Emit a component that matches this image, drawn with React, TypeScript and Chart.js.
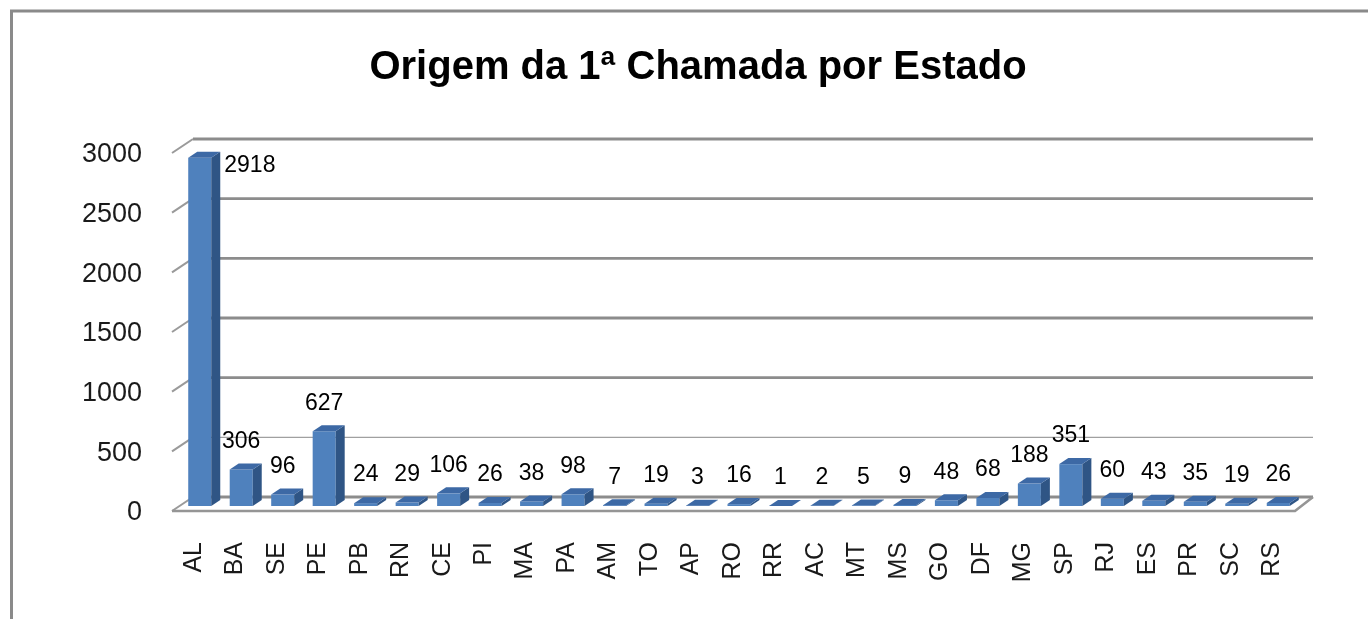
import React, { useEffect, useRef } from 'react';
import { Chart, registerables } from 'chart.js';

Chart.register(...registerables);

const TITLE = 'Origem da 1ª Chamada por Estado';
const STATES = ['AL', 'BA', 'SE', 'PE', 'PB', 'RN', 'CE', 'PI', 'MA', 'PA', 'AM', 'TO', 'AP', 'RO', 'RR', 'AC', 'MT', 'MS', 'GO', 'DF', 'MG', 'SP', 'RJ', 'ES', 'PR', 'SC', 'RS'];
const CALLS = [2918, 306, 96, 627, 24, 29, 106, 26, 38, 98, 7, 19, 3, 16, 1, 2, 5, 9, 48, 68, 188, 351, 60, 43, 35, 19, 26];
const Y_TICKS = [0, 500, 1000, 1500, 2000, 2500, 3000];

const FONT = 'Liberation Sans';
const FRONT = { dx: -7, dy: 5 };
const BACK = { dx: 14, dy: -9 };
const DEPTH = { dx: 9, dy: 6 };

const frame3d = {
  id: 'frame3d',
  beforeDraw(chart: any) {
    const { ctx, width, height } = chart;
    ctx.save();
    ctx.fillStyle = '#ffffff';
    ctx.fillRect(0, 0, width, height);
    ctx.strokeStyle = '#8a8a8a';
    ctx.lineWidth = 3;
    ctx.strokeRect(11.5, 11, width + 20, height + 20);
    ctx.restore();
  },
  beforeDatasetsDraw(chart: any) {
    const { ctx, chartArea, scales } = chart;
    const { left, right } = chartArea;
    const y = scales.y;
    ctx.save();
    ctx.lineCap = 'butt';
    Y_TICKS.forEach((v) => {
      const py = y.getPixelForValue(v);
      ctx.strokeStyle = v === 500 ? '#a0a0a0' : '#8c8c8c';
      ctx.lineWidth = v === 500 ? 1.3 : 2.8;
      ctx.beginPath();
      ctx.moveTo(left + BACK.dx, py + BACK.dy);
      ctx.lineTo(right + BACK.dx, py + BACK.dy);
      ctx.stroke();
      ctx.strokeStyle = '#9a9a9a';
      ctx.lineWidth = 2;
      ctx.beginPath();
      ctx.moveTo(left + FRONT.dx, py + FRONT.dy);
      ctx.lineTo(left + BACK.dx, py + BACK.dy);
      ctx.stroke();
    });
    const y0 = y.getPixelForValue(0);
    ctx.strokeStyle = '#959595';
    ctx.lineWidth = 2.6;
    ctx.beginPath();
    ctx.moveTo(left + FRONT.dx, y0 + FRONT.dy);
    ctx.lineTo(right - 4, y0 + FRONT.dy);
    ctx.lineTo(right + BACK.dx, y0 + BACK.dy);
    ctx.stroke();
    ctx.restore();
  },
  afterDatasetsDraw(chart: any) {
    const { ctx, chartArea } = chart;
    const meta = chart.getDatasetMeta(0);
    ctx.save();
    meta.data.forEach((bar: any, i: number) => {
      const { x, y: top, base, width } = bar.getProps(['x', 'y', 'base', 'width'], true);
      const l = x - width / 2;
      const r = x + width / 2;
      ctx.fillStyle = '#2f5585';
      ctx.beginPath();
      ctx.moveTo(r, top);
      ctx.lineTo(r + DEPTH.dx, top - DEPTH.dy);
      ctx.lineTo(r + DEPTH.dx, base - DEPTH.dy);
      ctx.lineTo(r, base);
      ctx.closePath();
      ctx.fill();
      ctx.fillStyle = '#3d69a5';
      ctx.beginPath();
      ctx.moveTo(l, top);
      ctx.lineTo(l + DEPTH.dx, top - DEPTH.dy);
      ctx.lineTo(r + DEPTH.dx, top - DEPTH.dy);
      ctx.lineTo(r, top);
      ctx.closePath();
      ctx.fill();

      const value = String(CALLS[i]);
      ctx.fillStyle = '#000000';
      ctx.font = `23px "${FONT}"`;
      ctx.textBaseline = 'middle';
      const ly = top - 28;
      if (ly < chartArea.top - 2) {
        ctx.textAlign = 'left';
        ctx.fillText(value, r + DEPTH.dx + 4, top + 8);
      } else {
        ctx.textAlign = 'center';
        ctx.fillText(value, x, ly);
      }
    });
    ctx.restore();
  },
};

export default function App() {
  const ref = useRef<HTMLCanvasElement | null>(null);

  useEffect(() => {
    document.body.style.margin = '0';
    const canvas = ref.current;
    if (!canvas) return;
    const chart = new Chart(canvas, {
      type: 'bar',
      data: {
        labels: STATES,
        datasets: [
          {
            data: CALLS,
            backgroundColor: '#4f81bd',
            borderWidth: 0,
            categoryPercentage: 1,
            barPercentage: 0.555,
            yAxisID: 'y',
          },
        ],
      },
      options: {
        responsive: false,
        animation: false,
        devicePixelRatio: 1,
        layout: { padding: { left: 78, right: 50, top: 0, bottom: 0 } },
        plugins: {
          legend: { display: false },
          tooltip: { enabled: false },
          title: {
            display: true,
            text: TITLE,
            color: '#000000',
            font: { family: FONT, size: 40, weight: 'bold' },
            padding: { top: 44, bottom: 56 },
          },
        },
        scales: {
          x: {
            grid: { display: false, drawTicks: false },
            border: { display: false },
            ticks: {
              autoSkip: false,
              maxRotation: 90,
              minRotation: 90,
              padding: 36,
              labelOffset: -6,
              color: '#1a1a1a',
              font: { family: FONT, size: 25 },
            },
            afterFit(scale: any) {
              scale.height = 113;
            },
          },
          y: {
            min: 0,
            max: 3000,
            grid: { display: false, drawTicks: false },
            border: { display: false },
            ticks: {
              stepSize: 500,
              padding: 37,
              labelOffset: 7,
              color: '#1a1a1a',
              font: { family: FONT, size: 27 },
              callback: (value: any) => String(value),
            },
            afterFit(scale: any) {
              scale.width = 101;
            },
          },
          yRight: {
            position: 'right',
            min: 0,
            max: 3000,
            grid: { display: false, drawTicks: false },
            border: { display: false },
            ticks: { display: false },
            afterFit(scale: any) {
              scale.width = 19;
            },
          },
        },
      },
      plugins: [frame3d],
    });
    return () => chart.destroy();
  }, []);

  return (
    <div style={{ width: 1368, height: 619 }}>
      <canvas ref={ref} width={1368} height={619} style={{ display: 'block', width: 1368, height: 619 }} />
    </div>
  );
}
